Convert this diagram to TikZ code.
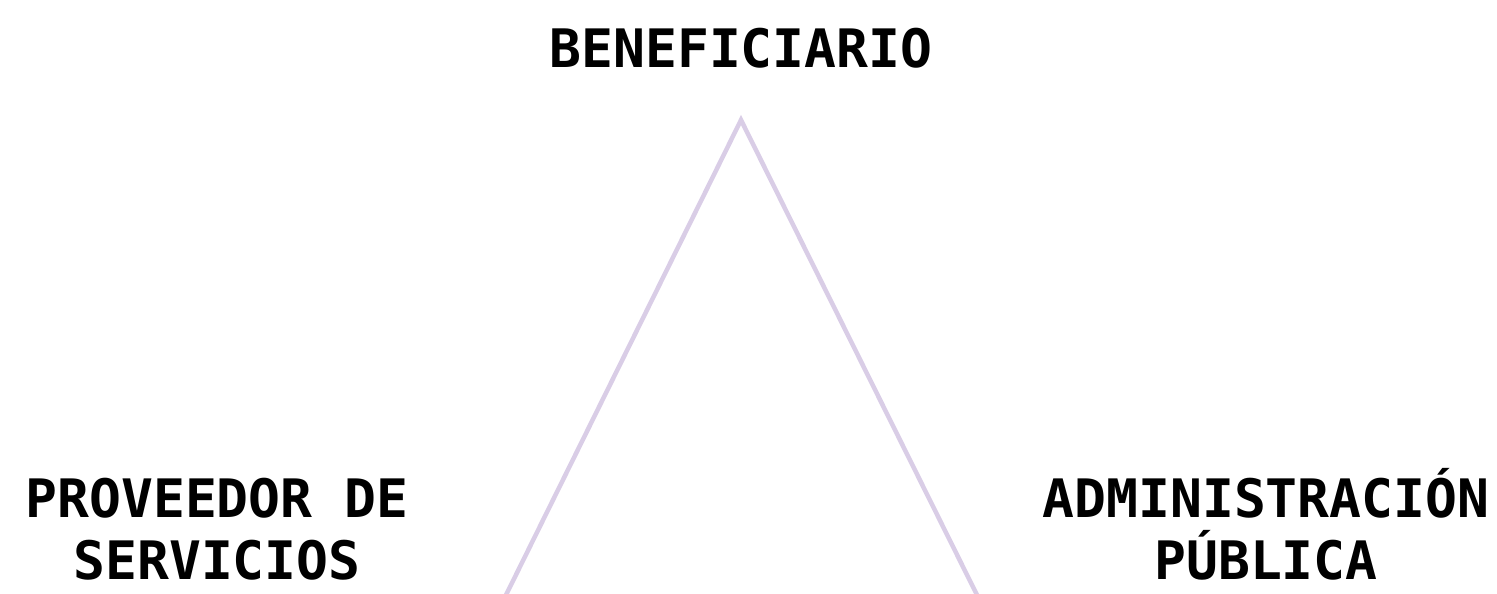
\documentclass[tikz,border=0pt]{standalone}
\usepackage{fontspec}
\setmonofont{DejaVu Sans Mono}
\definecolor{lav}{HTML}{D9CDE6}
\tikzset{
  lbl/.style={font=\ttfamily\bfseries\fontsize{53}{62}\selectfont, align=center, anchor=base, inner sep=0pt},
  edge/.style={draw=lav, line width=4.5pt}
}
\begin{document}
\begin{tikzpicture}[x=1pt,y=-1pt]
\useasboundingbox (0,0) rectangle (1497,594);
\clip (0,0) rectangle (1497,594);
\coordinate (apex) at (741,120);
\coordinate (bl) at (505,597);
\coordinate (br) at (978,597);
\draw[edge, line join=miter] (bl) -- (apex) -- (br);
\node[lbl] (ben) at (741,67) {BENEFICIARIO};
\node[lbl] (prov) at (217,579) {PROVEEDOR DE\\SERVICIOS};
\node[lbl] (adm) at (1266,579) {ADMINISTRACIÓN\\PÚBLICA};
\end{tikzpicture}
\end{document}
